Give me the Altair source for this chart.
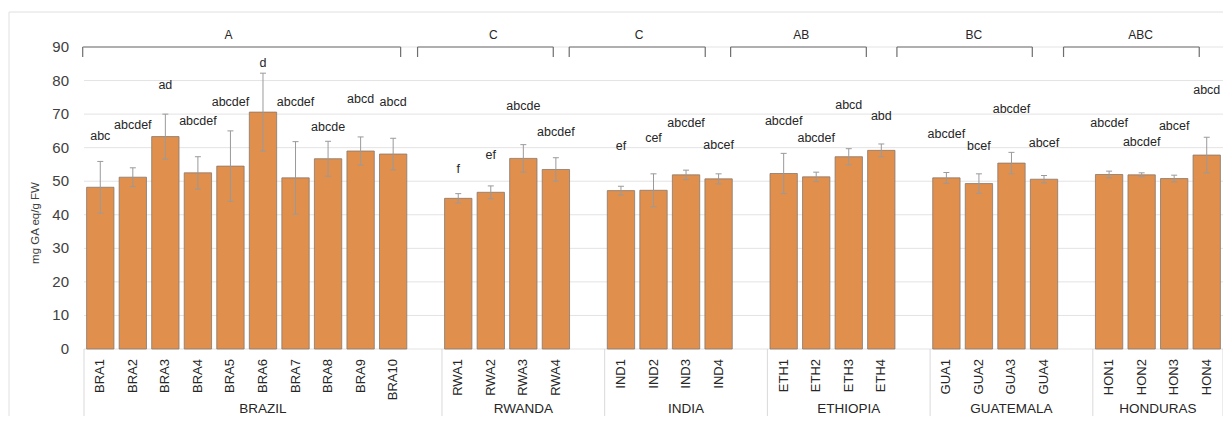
import altair as alt
import pandas as pd

# ---------------- data ----------------
groups = ["BRAZIL", "RWANDA", "INDIA", "ETHIOPIA", "GUATEMALA", "HONDURAS"]
group_sizes = [10, 4, 4, 4, 4, 4]

samples = ["BRA1", "BRA2", "BRA3", "BRA4", "BRA5", "BRA6", "BRA7", "BRA8", "BRA9", "BRA10",
           "RWA1", "RWA2", "RWA3", "RWA4",
           "IND1", "IND2", "IND3", "IND4",
           "ETH1", "ETH2", "ETH3", "ETH4",
           "GUA1", "GUA2", "GUA3", "GUA4",
           "HON1", "HON2", "HON3", "HON4"]
means = [48.2, 51.2, 63.3, 52.5, 54.5, 70.6, 51.0, 56.7, 59.0, 58.1,
         44.9, 46.7, 56.8, 53.5,
         47.2, 47.3, 51.9, 50.7,
         52.3, 51.3, 57.3, 59.2,
         51.0, 49.3, 55.4, 50.6,
         52.0, 51.9, 50.8, 57.8]
sds = [7.7, 2.8, 6.7, 4.8, 10.5, 11.6, 10.8, 5.2, 4.2, 4.7,
       1.4, 1.9, 4.1, 3.5,
       1.3, 4.9, 1.4, 1.5,
       6.0, 1.4, 2.4, 1.9,
       1.6, 2.9, 3.2, 1.1,
       1.0, 0.6, 1.0, 5.3]
letters = ["abc", "abcdef", "ad", "abcdef", "abcdef", "d", "abcdef", "abcde", "abcd", "abcd",
           "f", "ef", "abcde", "abcdef",
           "ef", "cef", "abcdef", "abcef",
           "abcdef", "abcdef", "abcd", "abd",
           "abcdef", "bcef", "abcdef", "abcef",
           "abcdef", "abcdef", "abcef", "abcd"]
letter_y = [63.5, 66.7, 78.6, 67.9, 73.7, 85.3, 73.5, 66.1, 74.5, 73.6,
            53.6, 57.8, 72.3, 64.7,
            60.6, 63.0, 67.4, 60.9,
            67.9, 63.0, 72.8, 69.3,
            64.0, 60.4, 71.5, 61.5,
            67.5, 61.6, 66.4, 77.2]

bracket_labels = ["A", "C", "C", "AB", "BC", "ABC"]
bracket_start = [-0.54, 9.75, 14.41, 19.37, 24.48, 29.60]
bracket_end = [9.23, 13.92, 18.59, 23.54, 28.64, 33.77]
bracket_label_x = [3.94, 12.08, 16.56, 21.54, 26.84, 31.97]
bracket_level = 90

y_ticks = [0, 10, 20, 30, 40, 50, 60, 70, 80, 90]

# ---------------- tables ----------------
idx = []
grp_start = []
pos = 0
for size in group_sizes:
    grp_start.append(pos)
    idx.extend(range(pos, pos + size))
    pos += size + 1
n_slots = pos - 1  # no spacer after the last group

bars = pd.DataFrame({"sample": samples, "idx": idx, "mean": means, "sd": sds,
                     "letters": letters, "ly": letter_y})
grp_size_eff = [s + 1 for s in group_sizes[:-1]] + [group_sizes[-1]]
grp = pd.DataFrame({"group": groups, "start": grp_start, "span": grp_size_eff})
brk = pd.DataFrame({"label": bracket_labels, "x0": bracket_start, "x1": bracket_end,
                    "lx": bracket_label_x, "lev": [bracket_level] * len(bracket_labels)})
ytk = pd.DataFrame({"t": y_ticks})

FONT = "Liberation Sans"
TXT = "#404040"
PAD_L, PAD_T = 76, 39
W, H = 1139, 302
TOTAL_H = 408
BOTTOM = TOTAL_H - PAD_T  # svg bottom relative to plot top

xs = alt.Scale(domain=[-0.5, n_slots - 0.5], nice=False, zero=False)
ys = alt.Scale(domain=[0, 90], nice=False, zero=True)

def Y(field):
    return alt.Y(field, scale=ys, axis=None)

def X(field):
    return alt.X(field, scale=xs, axis=None)

# gridlines + tick labels + title (drawn as marks so every 10 is shown)
grid = alt.Chart(ytk).mark_rule(color="#E3E3E3", strokeWidth=1).encode(
    y=Y("t:Q"), x=alt.value(0), x2=alt.value(W))
ylab = alt.Chart(ytk).mark_text(font=FONT, fontSize=15, color=TXT, align="right",
                                baseline="middle").encode(
    y=Y("t:Q"), x=alt.value(-15), text="t:Q")
ytitle = alt.Chart(pd.DataFrame({"s": ["mg GA eq/g FW"]})).mark_text(
    font=FONT, fontSize=11.5, color=TXT, angle=270, align="center", baseline="middle").encode(
    x=alt.value(-48), y=alt.value(176), text="s:N")

base = alt.Chart(bars)

bar_layer = base.transform_calculate(
    lo="datum.idx - 0.42", hi="datum.idx + 0.42"
).mark_bar(color="#E18F4C", stroke="#85786E", strokeWidth=0.8).encode(
    x=X("lo:Q"), x2="hi:Q", y=Y("mean:Q"), y2=alt.datum(0))

err = base.transform_calculate(
    elo="datum.mean - datum.sd", ehi="datum.mean + datum.sd"
)
err_line = err.mark_rule(color="#9A9A9A", strokeWidth=1).encode(
    x=X("idx:Q"), y=Y("elo:Q"), y2="ehi:Q")
cap_hi = err.mark_rule(color="#9A9A9A", strokeWidth=1, xOffset=-3, x2Offset=3).encode(
    x=X("idx:Q"), x2="idx:Q", y=Y("ehi:Q"))
cap_lo = err.mark_rule(color="#9A9A9A", strokeWidth=1, xOffset=-3, x2Offset=3).encode(
    x=X("idx:Q"), x2="idx:Q", y=Y("elo:Q"))

letter_text = base.mark_text(font=FONT, fontSize=12.5, color="#262626", baseline="middle").encode(
    x=X("idx:Q"), y=Y("ly:Q"), text="letters:N")

tick_text = base.mark_text(font=FONT, fontSize=13, color="#262626", angle=270,
                           align="right", baseline="middle").encode(
    x=X("idx:Q"), y=alt.value(312), text="sample:N")

gbase = alt.Chart(grp).transform_calculate(
    left="datum.start - 0.5", mid="datum.start - 0.5 + datum.span / 2")
group_text = gbase.mark_text(font=FONT, fontSize=13.5, color="#262626", baseline="middle").encode(
    x=X("mid:Q"), y=alt.value(362), text="group:N")
dividers = gbase.mark_rule(color="#D9D9D9", strokeWidth=1).encode(
    x=X("left:Q"), y=alt.value(H), y2=alt.value(BOTTOM))
end_divider = alt.Chart(pd.DataFrame({"e": [n_slots - 0.5]})).mark_rule(
    color="#D9D9D9", strokeWidth=1).encode(
    x=X("e:Q"), y=alt.value(H), y2=alt.value(BOTTOM))

bbase = alt.Chart(brk)
br_h = bbase.mark_rule(color="#6E6E6E", strokeWidth=1.2).encode(
    x=X("x0:Q"), x2="x1:Q", y=Y("lev:Q"))
br_l = bbase.mark_rule(color="#6E6E6E", strokeWidth=1.2).encode(
    x=X("x0:Q"), y=Y("lev:Q"), y2=alt.value(10))
br_r = bbase.mark_rule(color="#6E6E6E", strokeWidth=1.2).encode(
    x=X("x1:Q"), y=Y("lev:Q"), y2=alt.value(10))
br_t = bbase.mark_text(font=FONT, fontSize=12, color="#262626", baseline="middle").encode(
    x=X("lx:Q"), y=alt.value(-12), text="label:N")

border_l = alt.Chart(pd.DataFrame({"b": [0]})).mark_rule(color="#E0E0E0", strokeWidth=1).encode(
    x=alt.value(-75), y=alt.value(-35), y2=alt.value(BOTTOM))
border_t = alt.Chart(pd.DataFrame({"b": [0]})).mark_rule(color="#E0E0E0", strokeWidth=1).encode(
    x=alt.value(-75), x2=alt.value(W), y=alt.value(-35))

chart = alt.layer(
    border_l, border_t, grid, ylab, ytitle, bar_layer, err_line, cap_hi, cap_lo,
    letter_text, tick_text, group_text, dividers, end_divider,
    br_h, br_l, br_r, br_t
).properties(
    width=W, height=H,
    autosize=alt.AutoSizeParams(type="none"),
    padding={"left": PAD_L, "top": PAD_T, "right": 0, "bottom": TOTAL_H - PAD_T - H},
    background="white",
).configure_view(stroke=None)

chart.save("out.html", embed_options={"renderer": "svg", "actions": False})
